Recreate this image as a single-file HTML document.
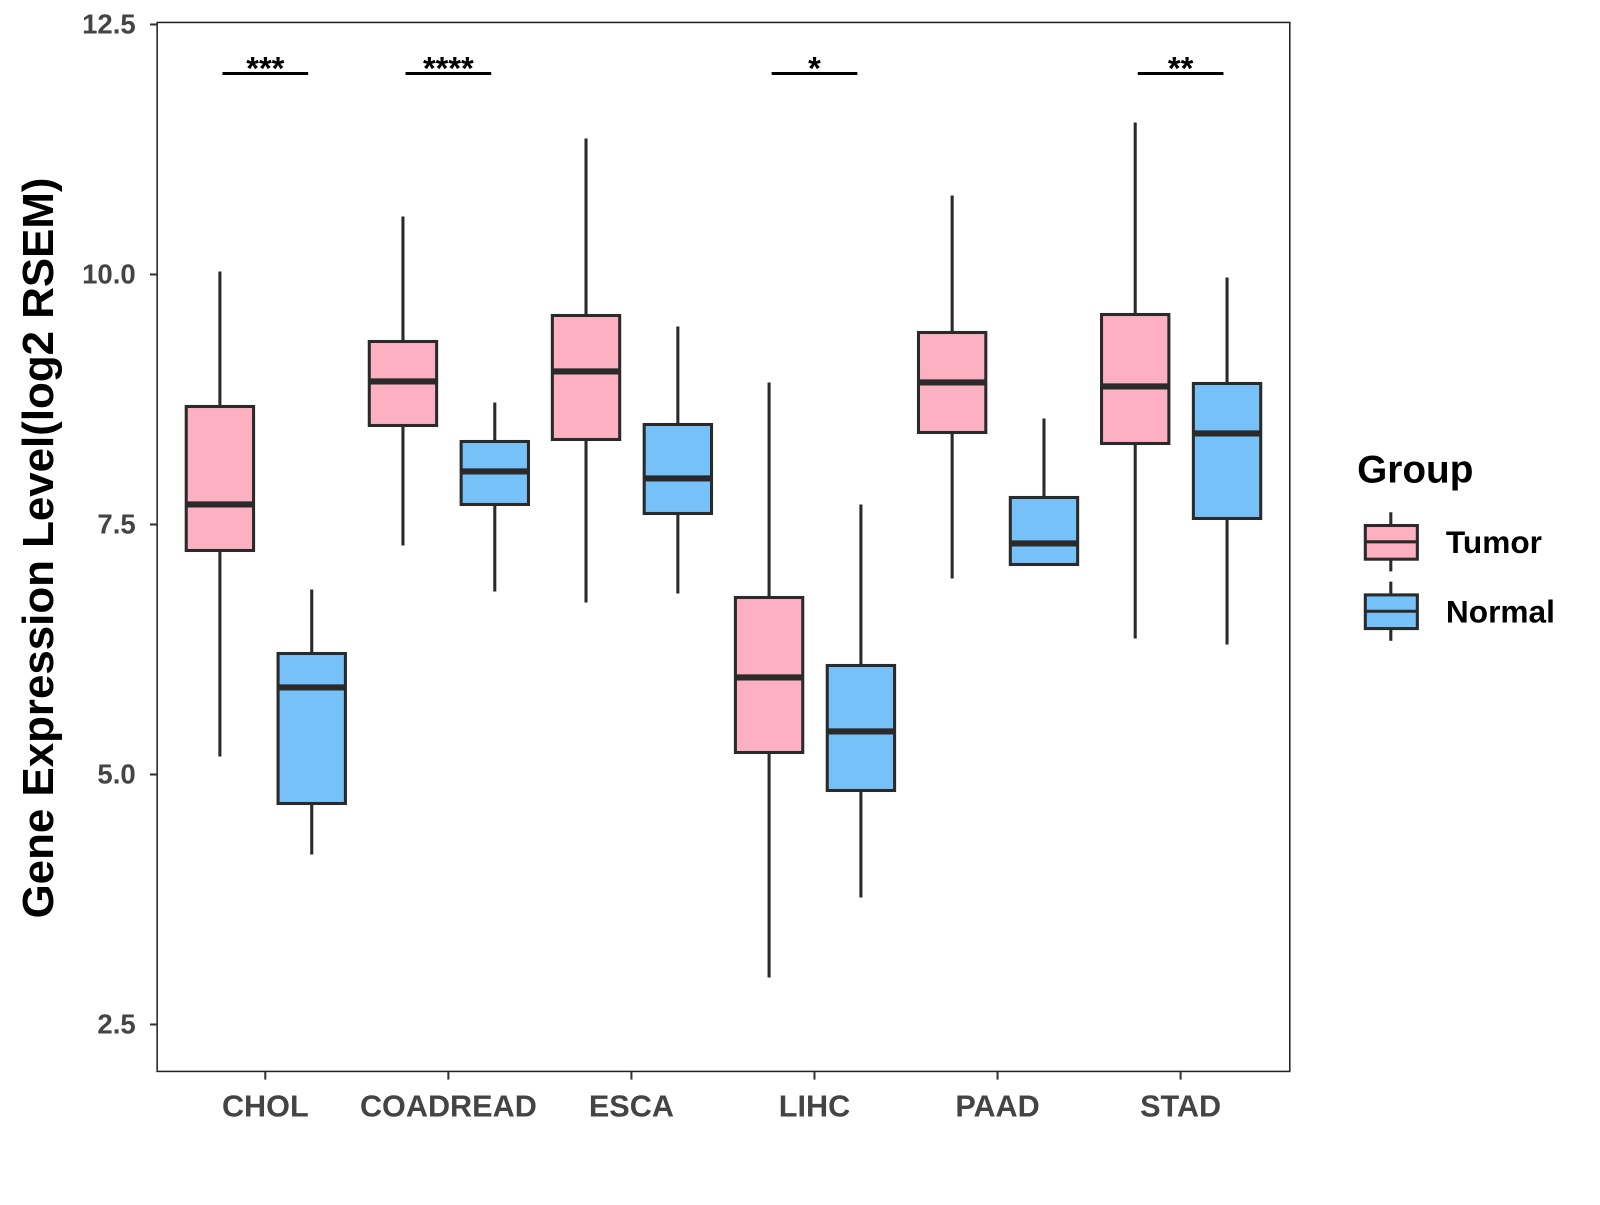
<!DOCTYPE html>
<html><head><meta charset="utf-8"><style>
body{margin:0;background:#fff;}
svg text{font-family:"Liberation Sans",Arial,sans-serif;font-weight:bold;}
</style></head><body>
<svg id="chart" width="1600" height="1200" viewBox="0 0 1568 1176" xmlns="http://www.w3.org/2000/svg">
<rect width="1568" height="1176" fill="#fff"/>
<g id="plot"></g>
</svg>
<script>
const categories=["CHOL","COADREAD","ESCA","LIHC","PAAD","STAD"];
const tumorStats=[[5.18,7.24,7.70,8.68,10.03],[7.29,8.49,8.93,9.33,10.58],[6.72,8.35,9.03,9.59,11.36],[2.97,5.22,5.97,6.77,8.92],[6.96,8.42,8.92,9.42,10.79],[6.36,8.31,8.88,9.60,11.52]];
const normalStats=[[4.20,4.71,5.87,6.21,6.85],[6.83,7.70,8.03,8.33,8.72],[6.81,7.61,7.96,8.50,9.48],[3.77,4.84,5.43,6.09,7.70],[7.10,7.10,7.31,7.77,8.56],[6.30,7.56,8.41,8.91,9.97]];
const signif=["***","****","","*","","**"];
const yTicks=[2.5,5.0,7.5,10.0,12.5];
const NS="http://www.w3.org/2000/svg";
const g=document.getElementById('plot');
const L=154,R=1264,T=22,B=1050;
const y=v=>269+(10-v)*98;
const x=i=>260+i*179.4;
function mk(t,a,txt){const e=document.createElementNS(NS,t);for(const k in a)e.setAttribute(k,a[k]);if(txt!==undefined)e.textContent=txt;g.appendChild(e);return e;}
let e=mk('rect',{x:L,y:T,width:R-L,height:B-T,fill:'none',stroke:'#222','stroke-width':1.5});


yTicks.forEach(v=>{
 let t=mk('line',{x1:L-7,x2:L,y1:y(v),y2:y(v),stroke:'#333','stroke-width':2});
 
 
 let l=mk('text',{x:L-21,y:y(v)+9,'text-anchor':'end','font-size':27,fill:'#444'},v.toFixed(1));
 
 
});
function box(cx,s,fill,name){
 const w=33;
 let wl=mk('line',{x1:cx,x2:cx,y1:y(s[4]),y2:y(s[0]),stroke:'#2a2a2a','stroke-width':3});
 
 
 let r=mk('rect',{x:cx-w,y:y(s[3]),width:2*w,height:y(s[1])-y(s[3]),fill:fill,stroke:'#2a2a2a','stroke-width':3});
 
 
 let m=mk('line',{x1:cx-w,x2:cx+w,y1:y(s[2]),y2:y(s[2]),stroke:'#2a2a2a','stroke-width':6});
 
 
}
categories.forEach((c,i)=>{
 box(x(i)-44.5,tumorStats[i],'#fcb0c2','tumor-'+c.toLowerCase());
 box(x(i)+45.5,normalStats[i],'#76c1f7','normal-'+c.toLowerCase());
 let t=mk('line',{x1:x(i),x2:x(i),y1:B,y2:B+8,stroke:'#333','stroke-width':2});
 
 
 let l=mk('text',{x:x(i),y:B+44,'text-anchor':'middle','font-size':30,fill:'#444'},c);
 
 
 if(signif[i]){
  let b=mk('line',{x1:x(i)-42,x2:x(i)+42,y1:72,y2:72,stroke:'#000','stroke-width':3});
  
  
  let s=mk('text',{x:x(i),y:78,'text-anchor':'middle','font-size':32,fill:'#000'},signif[i]);
  
  
 }
});
let yt=mk('text',{x:0,y:0,transform:'translate(52,537) rotate(-90)','text-anchor':'middle','font-size':43,fill:'#000'},'Gene Expression Level(log2 RSEM)');


let lt=mk('text',{x:1330,y:473,'font-size':38,fill:'#000'},'Group');


[["Tumor",'#fcb0c2',531],["Normal",'#76c1f7',599]].forEach(([n,f,cy])=>{
 let w=mk('line',{x1:1363,x2:1363,y1:cy-29,y2:cy+29,stroke:'#2a2a2a','stroke-width':3});
 
 
 let r=mk('rect',{x:1338,y:cy-16,width:51,height:33,fill:f,stroke:'#2a2a2a','stroke-width':3});
 
 
 let m=mk('line',{x1:1338,x2:1389,y1:cy,y2:cy,stroke:'#2a2a2a','stroke-width':3});
 
 
 let t=mk('text',{x:1417,y:cy+11,'font-size':31,fill:'#000'},n);
 
 
});
</script>
</body></html>
